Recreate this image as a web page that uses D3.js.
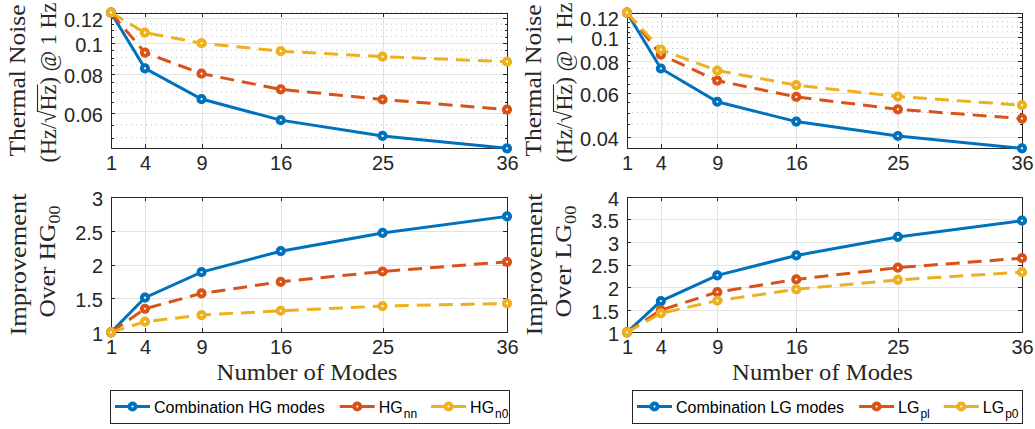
<!DOCTYPE html>
<html>
<head>
<meta charset="utf-8">
<script src="https://cdn.jsdelivr.net/npm/d3@7"></script>
<style>
  body { margin: 0; background: #fff; }
</style>
</head>
<body>
<div id="root"></div>
<script>
// ---- data ----
const modes = [1, 4, 9, 16, 25, 36];

// thermal noise (Hz/sqrt(Hz) @ 1 Hz)
const hgCombNoise = [0.125, 0.0832, 0.0664, 0.0569, 0.0507, 0.0463];
const hgNnNoise   = [0.125, 0.0933, 0.0800, 0.0713, 0.0662, 0.0615];
const hgN0Noise   = [0.125, 0.1080, 0.1000, 0.0943, 0.0906, 0.0873];
const lgCombNoise = [0.125, 0.0749, 0.0552, 0.0460, 0.0403, 0.0360];
const lgPlNoise   = [0.125, 0.0850, 0.0670, 0.0577, 0.0515, 0.0473];
const lgP0Noise   = [0.125, 0.0890, 0.0735, 0.0643, 0.0579, 0.0535];

// improvement over the fundamental mode
const hgCombImp = [1, 1.51, 1.887, 2.196, 2.465, 2.71];
const hgNnImp   = [1, 1.347, 1.574, 1.745, 1.897, 2.04];
const hgN0Imp   = [1, 1.156, 1.254, 1.318, 1.387, 1.426];
const lgCombImp = [1, 1.69, 2.26, 2.70, 3.11, 3.47];
const lgPlImp   = [1, 1.49, 1.89, 2.17, 2.43, 2.64];
const lgP0Imp   = [1, 1.42, 1.70, 1.95, 2.16, 2.33];

const hgNoiseTicks = [0.06, 0.08, 0.1, 0.12];
const lgNoiseTicks = [0.04, 0.06, 0.08, 0.1, 0.12];
const hgImpTicks = [1, 1.5, 2, 2.5, 3];
const lgImpTicks = [1, 1.5, 2, 2.5, 3, 3.5, 4];

const hgLegend = [['Combination HG modes', ''], ['HG', 'nn'], ['HG', 'n0']];
const lgLegend = [['Combination LG modes', ''], ['LG', 'pl'], ['LG', 'p0']];

// ---- styling ----
const width = 1035, height = 429;
const colors = ['#0072BD', '#D95319', '#EDB120'];
const dashes = [null, '14,8', '14,8'];
const axisColor = '#262626';
const sans = "'Liberation Sans', Arial, sans-serif";
const serif = "'Liberation Serif', 'Times New Roman', serif";

const svg = d3.select('#root').append('svg')
  .attr('width', width)
  .attr('height', height)
  .attr('viewBox', [0, 0, width, height]);

const cols = [
  { x0: 111, x1: 507, sub: 'HG', noise: [hgCombNoise, hgNnNoise, hgN0Noise], nTicks: hgNoiseTicks,
    imp: [hgCombImp, hgNnImp, hgN0Imp], iTicks: hgImpTicks, legend: hgLegend, lx0: 110, lx1: 509 },
  { x0: 627, x1: 1022, sub: 'LG', noise: [lgCombNoise, lgPlNoise, lgP0Noise], nTicks: lgNoiseTicks,
    imp: [lgCombImp, lgPlImp, lgP0Imp], iTicks: lgImpTicks, legend: lgLegend, lx0: 632, lx1: 1022 }
];
const topRow = { y0: 12.7, y1: 148.3 };
const botRow = { y0: 196.7, y1: 332.3 };

function styleAxis(sel) {
  sel.attr('color', axisColor)
    .attr('font-family', sans)
    .attr('font-size', 20);
  sel.selectAll('path, line').attr('stroke-width', 1).attr('shape-rendering', 'crispEdges');
}

function drawPanel(col, row, series, yTicks, isLog) {
  const x = d3.scaleLinear().domain([1, 36]).range([col.x0, col.x1]);
  let y;
  if (isLog) {
    y = d3.scaleLog().domain(d3.extent(series.flat())).range([row.y1, row.y0]);
  } else {
    y = d3.scaleLinear().domain(d3.extent(yTicks)).range([row.y1, row.y0]);
  }
  const g = svg.append('g');

  // minor grid (log panels only, every 0.005)
  let minor = [];
  if (isLog) {
    const [lo, hi] = y.domain();
    for (let k = Math.ceil(lo * 200); k <= Math.floor(hi * 200); k++) {
      if (k % 4 !== 0) minor.push(k / 200);
    }
    g.append('g').selectAll('line')
      .data(minor)
      .join('line')
      .attr('x1', col.x0).attr('x2', col.x1)
      .attr('y1', (d) => y(d)).attr('y2', (d) => y(d))
      .attr('stroke', '#bdbdbd')
      .attr('stroke-width', 1)
      .attr('stroke-dasharray', '1,4');
  }

  // major grid
  g.append('g').selectAll('line')
    .data(yTicks)
    .join('line')
    .attr('x1', col.x0).attr('x2', col.x1)
    .attr('y1', (d) => Math.round(y(d)) + 0.5).attr('y2', (d) => Math.round(y(d)) + 0.5)
    .attr('stroke', '#e3e3e3');
  g.append('g').selectAll('line')
    .data(modes)
    .join('line')
    .attr('x1', (d) => Math.round(x(d)) + 0.5).attr('x2', (d) => Math.round(x(d)) + 0.5)
    .attr('y1', row.y0).attr('y2', row.y1)
    .attr('stroke', '#e3e3e3');

  // axes, ticks pointing inside
  g.append('g')
    .attr('transform', `translate(0,${row.y1})`)
    .call(d3.axisBottom(x).tickValues(modes).tickSizeInner(-4).tickSizeOuter(0).tickPadding(8))
    .call(styleAxis);
  g.append('g')
    .attr('transform', `translate(0,${row.y0})`)
    .call(d3.axisTop(x).tickValues(modes).tickSizeInner(-4).tickSizeOuter(0).tickFormat(''))
    .call(styleAxis);
  const left = g.append('g')
    .attr('transform', `translate(${col.x0},0)`)
    .call(d3.axisLeft(y).tickValues(yTicks).tickSizeInner(-4).tickSizeOuter(0).tickPadding(8)
      .tickFormat((d) => String(d)))
    .call(styleAxis);
  left.selectAll('text').attr('dy', '0.42em');
  g.append('g')
    .attr('transform', `translate(${col.x1},0)`)
    .call(d3.axisRight(y).tickValues(yTicks).tickSizeInner(-4).tickSizeOuter(0).tickFormat(''))
    .call(styleAxis);
  if (isLog) {
    g.append('g')
      .attr('transform', `translate(${col.x0},0)`)
      .call(d3.axisLeft(y).tickValues(minor).tickSize(-2.5).tickFormat(''))
      .call(styleAxis)
      .select('.domain').remove();
    g.append('g')
      .attr('transform', `translate(${col.x1},0)`)
      .call(d3.axisRight(y).tickValues(minor).tickSize(-2.5).tickFormat(''))
      .call(styleAxis)
      .select('.domain').remove();
  }

  // series
  const line = d3.line()
    .x((d, i) => x(modes[i]))
    .y((d) => y(d));
  series.forEach((s, si) => {
    const sg = g.append('g');
    sg.append('path')
      .datum(s)
      .attr('d', line)
      .attr('fill', 'none')
      .attr('stroke', colors[si])
      .attr('stroke-width', 3)
      .attr('stroke-dasharray', dashes[si]);
    sg.selectAll('circle')
      .data(s)
      .join('circle')
      .attr('cx', (d, i) => x(modes[i]))
      .attr('cy', (d) => y(d))
      .attr('r', 3.1)
      .attr('fill', '#fff')
      .attr('stroke', colors[si])
      .attr('stroke-width', 4);
  });
}

// serif label stretched along its direction to the measured length
function serifLabel(x, y, rotate, target, build) {
  const t = svg.append('text')
    .attr('text-anchor', 'middle')
    .attr('font-family', serif)
    .attr('font-size', 24)
    .attr('fill', axisColor);
  build(t);
  const k = target / t.node().getComputedTextLength();
  t.attr('transform', `translate(${x},${y})${rotate ? ' rotate(-90)' : ''} scale(${k},1)`);
  return t;
}

function noiseLine2(t) {
  t.text('(Hz/\u221AHz) @ 1 Hz');
}

// overline across the square root, drawn in the label's own frame
function addOverline(t) {
  const node = t.node();
  const a = node.getEndPositionOfChar(4).x;
  const b = node.getEndPositionOfChar(6).x;
  svg.append('line')
    .attr('transform', t.attr('transform'))
    .attr('x1', a - 1).attr('x2', b)
    .attr('y1', -18.5).attr('y2', -18.5)
    .attr('stroke', axisColor)
    .attr('stroke-width', 1.1);
}

function overLine(sub) {
  return (t) => {
    t.append('tspan').text('Over ' + sub);
    t.append('tspan').attr('font-size', 17).attr('dy', 5).text('00');
  };
}

function drawLegend(col) {
  const cy = 406.5;
  const lg = svg.append('g');
  lg.append('rect')
    .attr('x', col.lx0 + 0.5).attr('y', 390.5)
    .attr('width', col.lx1 - col.lx0).attr('height', 33)
    .attr('fill', '#fff')
    .attr('stroke', axisColor)
    .attr('stroke-width', 1);
  let cx = col.lx0 + 5;
  col.legend.forEach((item, i) => {
    lg.append('line')
      .attr('x1', cx).attr('x2', cx + 35)
      .attr('y1', cy).attr('y2', cy)
      .attr('stroke', colors[i])
      .attr('stroke-width', 3)
      .attr('stroke-dasharray', dashes[i]);
    lg.append('circle')
      .attr('cx', cx + 17.5).attr('cy', cy)
      .attr('r', 3.1)
      .attr('fill', '#fff')
      .attr('stroke', colors[i])
      .attr('stroke-width', 4);
    const t = lg.append('text')
      .attr('x', cx + 39).attr('y', 413)
      .attr('font-family', sans)
      .attr('font-size', 16)
      .attr('fill', '#000');
    t.append('tspan').text(item[0]);
    if (item[1]) t.append('tspan').attr('font-size', 12).attr('dx', 1).attr('dy', 5).text(item[1]);
    cx += 39 + t.node().getComputedTextLength() + 15;
  });
}

cols.forEach((col) => {
  drawPanel(col, topRow, col.noise, col.nTicks, true);
  drawPanel(col, botRow, col.imp, col.iTicks, false);

  const off = col.x0 - 111;
  const topMid = (topRow.y0 + topRow.y1) / 2;
  const botMid = (botRow.y0 + botRow.y1) / 2;
  serifLabel(25 + off, topMid, true, 152, (t) => t.text('Thermal Noise'));
  const l2 = serifLabel(56 + off, topMid + 2, true, 160, noiseLine2);
  addOverline(l2);
  serifLabel(26 + off, botMid, true, 142, (t) => t.text('Improvement'));
  serifLabel(55 + off, botMid - 3, true, 112, overLine(col.sub));

  serifLabel((col.x0 + col.x1) / 2 - 2, 380, false, 181, (t) => t.text('Number of Modes'));

  drawLegend(col);
});
</script>
</body>
</html>
